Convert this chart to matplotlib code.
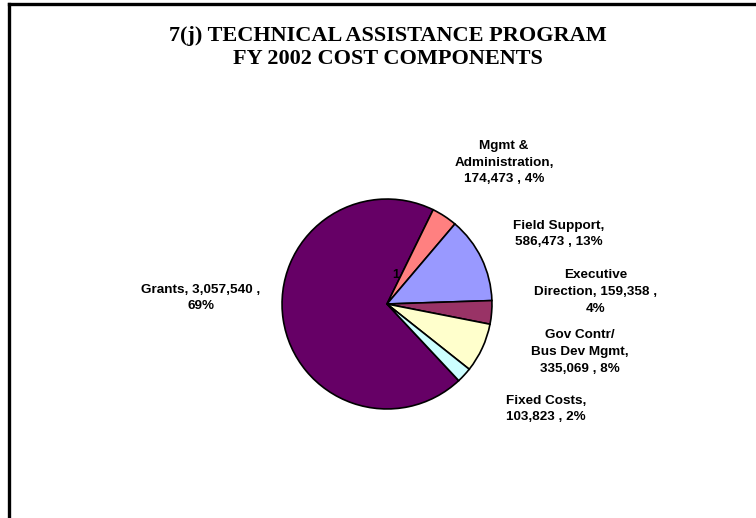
import matplotlib
matplotlib.use("Agg")
from matplotlib import pyplot as plt

# cost components, in clockwise order starting after the Grants slice
names = ["Mgmt &\nAdministration", "Field Support", "Executive\nDirection",
         "Gov Contr/\nBus Dev Mgmt", "Fixed Costs", "Grants"]
costs = [174473, 586473, 159358, 335069, 103823, 3057540]
colors = ["#FF8080", "#9999FF", "#993366", "#FFFFCC", "#CCFFFF", "#660066"]

# label text as printed, line breaks where the boxes wrap
label_text = [
    "Mgmt &\nAdministration,\n174,473 , 4%",
    "Field Support,\n586,473 , 13%",
    "Executive\nDirection, 159,358 ,\n4%",
    "Gov Contr/\nBus Dev Mgmt,\n335,069 , 8%",
    "Fixed Costs,\n103,823 , 2%",
    "Grants, 3,057,540 ,\n69%",
]
# label centres in pixels (x, y from top)
label_pos = [(504, 163), (559, 234), (596, 292), (580, 352), (546, 409), (201, 298)]

W, H = 756, 518
fig = plt.figure(figsize=(W / 100, H / 100), dpi=100)

# frame line along the top and left
fig.add_artist(plt.Line2D([9 / W, 9 / W], [0, 1 - 4 / H], color="black", lw=2.4))
fig.add_artist(plt.Line2D([9 / W, 1], [1 - 4 / H, 1 - 4 / H], color="black", lw=2.4))

fig.text(388 / W, 1 - 48 / H, "7(j) TECHNICAL ASSISTANCE PROGRAM\nFY 2002 COST COMPONENTS",
         ha="center", va="center", fontsize=16, fontweight="bold",
         family="Liberation Serif", linespacing=1.2)

cx, cy, r = 387, 304, 106
ax = fig.add_axes([(cx - r) / W, (H - cy - r) / H, 2 * r / W, 2 * r / H])
wedges, _ = ax.pie(costs, colors=colors, startangle=63.9, counterclock=False,
                   wedgeprops=dict(edgecolor="black", linewidth=1.2))
for w in wedges[:-1]:
    w.set_zorder(3)
wedges[-1].set_zorder(1)
ax.text(0.08, 0.28, "1", fontsize=9, fontweight="bold", family="Liberation Sans",
        ha="center", va="center", zorder=2)
ax.set_xlim(-1.01, 1.01)
ax.set_ylim(-1.01, 1.01)
ax.axis("off")

for txt, (x, y) in zip(label_text, label_pos):
    fig.text(x / W, 1 - y / H, txt, ha="center", va="center", multialignment="center",
             fontsize=9.7, fontweight="bold", family="Liberation Sans", linespacing=1.5)

fig.savefig("out.png", dpi=100)
